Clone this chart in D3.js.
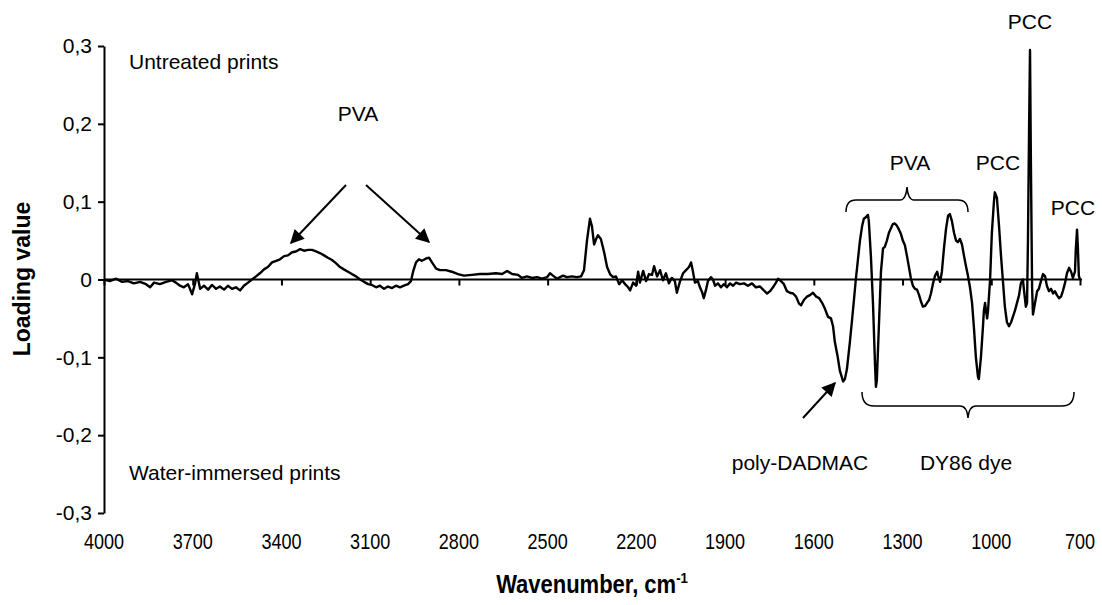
<!DOCTYPE html>
<html>
<head>
<meta charset="utf-8">
<script src="https://cdn.jsdelivr.net/npm/d3@7"></script>
<style>
  body { margin: 0; background: #fff; }
  text { font-family: "Liberation Sans", Arial, sans-serif; fill: #000; }
</style>
</head>
<body>
<svg id="chart" width="1102" height="605"></svg>
<script>
// wavenumber (cm-1) and loading value
const wavenumbers = [4000,3980,3959,3939,3919,3899,3878,3858,3844,3831,3811,3790,3770,3757,3743,3730,3716,3702,3692,3686,3675,3662,3648,3635,3621,3608,3594,3581,3567,3554,3540,3527,3513,3500,3486,3473,3459,3446,3432,3418,3405,3391,3378,3364,3351,3337,3324,3310,3297,3283,3270,3256,3243,3229,3216,3202,3189,3175,3162,3148,3134,3121,3107,3094,3080,3067,3053,3040,3026,3013,2999,2986,2972,2962,2955,2945,2935,2925,2911,2901,2891,2877,2864,2844,2824,2803,2783,2756,2729,2702,2675,2654,2637,2620,2600,2587,2570,2553,2536,2519,2502,2492,2482,2468,2458,2448,2435,2418,2401,2387,2377,2367,2357,2350,2343,2336,2330,2320,2309,2299,2289,2279,2269,2258,2248,2238,2228,2221,2211,2201,2194,2188,2177,2167,2157,2147,2140,2130,2120,2110,2100,2090,2080,2070,2063,2053,2042,2032,2022,2015,2009,2002,1992,1985,1978,1972,1965,1958,1948,1941,1934,1924,1914,1904,1894,1883,1873,1863,1850,1836,1823,1809,1796,1782,1769,1758,1748,1738,1728,1721,1711,1701,1691,1681,1670,1660,1650,1643,1633,1623,1613,1603,1592,1582,1572,1562,1552,1542,1535,1529,1519,1512,1501,1495,1488,1478,1471,1464,1458,1451,1444,1437,1431,1424,1417,1414,1407,1400,1393,1390,1387,1380,1373,1366,1360,1353,1346,1339,1333,1326,1319,1312,1305,1299,1292,1285,1278,1272,1265,1258,1251,1244,1238,1231,1224,1217,1210,1204,1197,1190,1183,1180,1173,1167,1160,1153,1146,1140,1133,1126,1119,1113,1106,1099,1092,1086,1079,1072,1065,1059,1052,1045,1042,1035,1028,1025,1021,1018,1014,1011,1004,998,991,988,981,974,967,960,954,947,940,933,927,920,913,906,900,893,889,883,879,876,872,869,866,862,859,852,845,839,832,825,818,812,805,798,791,785,778,771,764,758,751,744,737,730,724,717,714,710,707,704,700];
const loadings = [0,-0.002,0.001,-0.003,-0.002,-0.005,-0.003,-0.006,-0.010,-0.004,-0.006,-0.003,-0.001,-0.004,-0.008,-0.010,-0.006,-0.019,-0.005,0.008,-0.012,-0.008,-0.013,-0.007,-0.012,-0.009,-0.013,-0.008,-0.012,-0.010,-0.014,-0.008,-0.004,0.000,0.004,0.008,0.013,0.016,0.022,0.024,0.026,0.030,0.031,0.035,0.036,0.039,0.037,0.038,0.038,0.036,0.034,0.031,0.028,0.025,0.021,0.016,0.013,0.010,0.007,0.004,0.000,-0.003,-0.006,-0.007,-0.010,-0.008,-0.012,-0.009,-0.011,-0.008,-0.010,-0.008,-0.006,-0.002,0.010,0.022,0.026,0.024,0.027,0.028,0.022,0.014,0.012,0.012,0.010,0.007,0.005,0.006,0.007,0.007,0.008,0.007,0.011,0.007,0.006,0.002,0.004,0.002,0.003,0.001,0.003,0.008,0.005,0.001,0.003,0.005,0.003,0.004,0.003,0.004,0.012,0.050,0.078,0.068,0.045,0.052,0.057,0.052,0.035,0.016,0.007,0.003,0.004,-0.006,-0.001,-0.006,-0.010,-0.014,-0.004,-0.008,0.010,-0.004,0.011,-0.002,0.007,0.006,0.017,0.004,0.012,-0.001,0.008,-0.005,0.002,-0.002,-0.017,-0.003,0.008,0.012,0.016,0.022,0.011,-0.004,-0.002,-0.010,-0.016,-0.024,-0.014,-0.002,0.003,0.000,-0.008,-0.005,-0.010,-0.006,-0.010,-0.005,-0.008,-0.004,-0.006,-0.005,-0.008,-0.005,-0.010,-0.009,-0.014,-0.018,-0.015,-0.010,-0.004,0.001,-0.002,-0.006,-0.015,-0.017,-0.018,-0.022,-0.031,-0.033,-0.026,-0.022,-0.020,-0.017,-0.022,-0.024,-0.030,-0.038,-0.048,-0.050,-0.060,-0.080,-0.100,-0.117,-0.131,-0.128,-0.115,-0.080,-0.053,-0.025,0.000,0.025,0.050,0.068,0.078,0.080,0.083,0.075,0.030,-0.030,-0.110,-0.138,-0.130,-0.060,0.010,0.040,0.042,0.050,0.060,0.066,0.071,0.072,0.069,0.064,0.058,0.050,0.044,0.030,0.015,0.002,-0.008,-0.012,-0.013,-0.020,-0.028,-0.035,-0.034,-0.030,-0.026,-0.018,-0.005,0.005,0.010,0.005,-0.003,0.010,0.040,0.065,0.082,0.084,0.075,0.060,0.050,0.048,0.052,0.045,0.030,0.018,0.005,-0.010,-0.030,-0.060,-0.100,-0.125,-0.128,-0.100,-0.060,-0.040,-0.030,-0.040,-0.050,-0.040,0.000,0.060,0.100,0.112,0.105,0.070,0.030,-0.005,-0.035,-0.055,-0.060,-0.055,-0.048,-0.040,-0.030,-0.020,-0.005,0.000,-0.015,-0.035,-0.030,0.050,0.200,0.295,0.150,-0.010,-0.045,-0.030,-0.015,-0.012,-0.002,0.007,0.004,-0.008,-0.015,-0.012,-0.018,-0.015,-0.020,-0.024,-0.022,-0.015,-0.005,0.008,0.015,0.010,0.002,0.010,0.040,0.064,0.040,0.005,0.000];

const xTicks = [4000,3700,3400,3100,2800,2500,2200,1900,1600,1300,1000,700];
const yTicks = [-0.3,-0.2,-0.1,0,0.1,0.2,0.3];

const svg = d3.select("#chart");
const fmt = v => v === 0 ? "0" : d3.format(".1f")(v).replace(".", ",").replace("−", "-");

const x = d3.scaleLinear().domain([4000, 700]).range([104, 1080]);
const y = d3.scaleLinear().domain([-0.3, 0.3]).range([513, 46]);

// y axis
const yAxis = svg.append("g")
  .attr("transform", `translate(${x(4000)},0)`)
  .call(d3.axisLeft(y).tickValues(yTicks).tickSize(6).tickSizeOuter(0).tickFormat(fmt));
yAxis.select(".domain").attr("stroke", "#000").attr("stroke-width", 2);
yAxis.selectAll(".tick line").attr("stroke-width", 2);
yAxis.selectAll(".tick text").attr("x", -12).style("font-size", "21px")
  .style("font-family", "Liberation Sans, Arial, sans-serif");

// x axis on the zero line, labels at bottom
const xAxis = svg.append("g")
  .attr("transform", `translate(0,${y(0)})`)
  .call(d3.axisBottom(x).tickValues(xTicks).tickSize(6).tickSizeOuter(0).tickFormat(""));
xAxis.select(".domain").attr("stroke-width", 2).attr("d", `M${x(4000)},0H${x(700) + 2}`);
xAxis.selectAll(".tick line").attr("stroke-width", 2);

// narrow tick labels, as in the picture
svg.append("g").selectAll("text")
  .data(xTicks)
  .join("text")
  .attr("transform", d => `translate(${x(d)},549) scale(0.82,1)`)
  .attr("text-anchor", "middle")
  .style("font-size", "22px")
  .text(d => d);

// spectrum
const points = wavenumbers.map((w, i) => [w, loadings[i]]);
svg.append("path")
  .datum(points)
  .attr("fill", "none")
  .attr("stroke", "#000")
  .attr("stroke-width", 2.4)
  .attr("stroke-linejoin", "round")
  .attr("d", d3.line().x(d => x(d[0])).y(d => y(d[1])));

// axis titles
svg.append("text")
  .attr("transform", "translate(30,279) rotate(-90)")
  .attr("text-anchor", "middle")
  .style("font-size", "23px").style("font-weight", "bold")
  .text("Loading value");

const xt = svg.append("text")
  .attr("transform", "translate(592,593) scale(0.88,1)")
  .attr("text-anchor", "middle")
  .style("font-size", "25px").style("font-weight", "bold");
xt.append("tspan").text("Wavenumber, cm");
xt.append("tspan").attr("dy", -10).style("font-size", "15px").text("-1");

// annotations
svg.append("defs").append("marker")
  .attr("id", "arrow")
  .attr("viewBox", "0 0 10 10")
  .attr("refX", 9).attr("refY", 5)
  .attr("markerWidth", 8).attr("markerHeight", 7)
  .attr("markerUnits", "strokeWidth")
  .attr("orient", "auto")
  .append("path").attr("d", "M0,0L10,5L0,10z").attr("fill", "#000");

const label = (tx, ty, s, anchor = "middle") => svg.append("text")
  .attr("x", tx).attr("y", ty).attr("text-anchor", anchor)
  .style("font-size", "21px").text(s);

label(129, 69, "Untreated prints", "start");
label(129, 480, "Water-immersed prints", "start");
label(358, 121, "PVA");
label(910, 170, "PVA");
label(998, 170, "PCC");
label(1030, 29, "PCC");
label(1073, 215, "PCC");
label(800, 470, "poly-DADMAC");
label(966, 470, "DY86 dye");

const arrow = (x1, y1, x2, y2) => svg.append("line")
  .attr("x1", x1).attr("y1", y1).attr("x2", x2).attr("y2", y2)
  .attr("stroke", "#000").attr("stroke-width", 2)
  .attr("marker-end", "url(#arrow)");

arrow(346, 185, 291, 243);
arrow(366, 185, 429, 242);
arrow(803, 418, 835, 383);

// braces
svg.append("path")
  .attr("fill", "none").attr("stroke", "#000").attr("stroke-width", 1.5)
  .attr("d", "M846,212 Q846,200 856,200 L900,200 Q906,200 907,187 Q908,200 914,200 L958,200 Q968,200 968,212");
svg.append("path")
  .attr("fill", "none").attr("stroke", "#000").attr("stroke-width", 1.5)
  .attr("d", "M862,392 Q862,406 874,406 L960,406 Q967,406 968,418 Q969,406 976,406 L1062,406 Q1074,406 1074,392");
</script>
</body>
</html>
